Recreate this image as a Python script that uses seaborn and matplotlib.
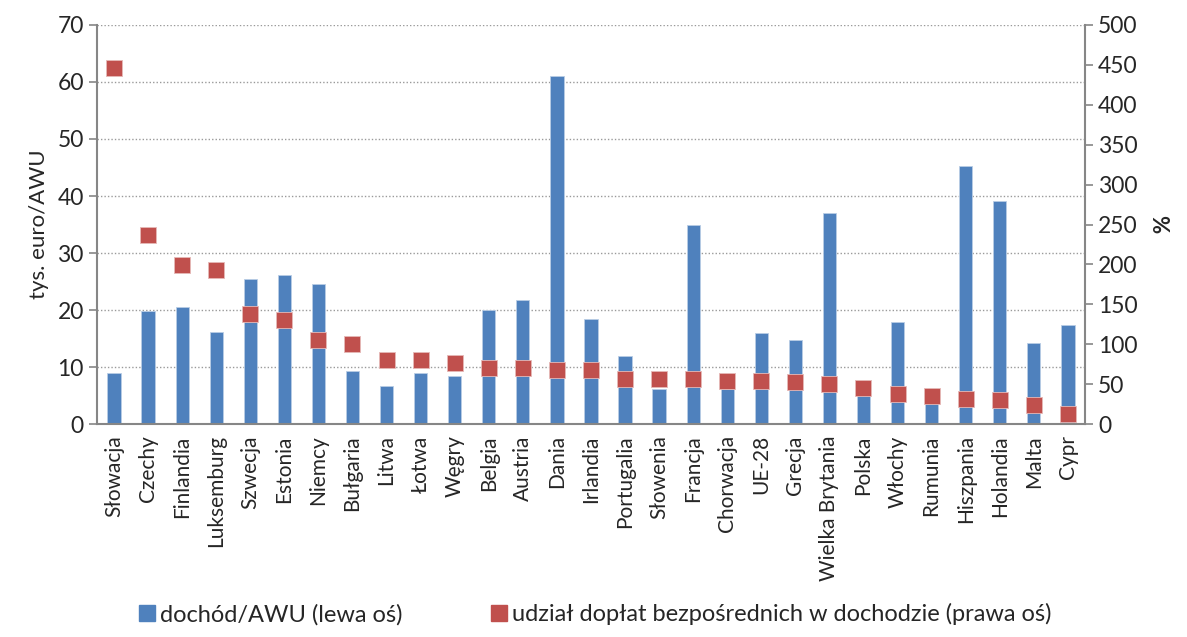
import numpy as np
import pandas as pd
import matplotlib
matplotlib.use('Agg')
import matplotlib.pyplot as plt
import seaborn as sns
from matplotlib.lines import Line2D

# countries
kraje = ['Słowacja', 'Czechy', 'Finlandia', 'Luksemburg', 'Szwecja', 'Estonia', 'Niemcy',
         'Bułgaria', 'Litwa', 'Łotwa', 'Węgry', 'Belgia', 'Austria', 'Dania', 'Irlandia',
         'Portugalia', 'Słowenia', 'Francja', 'Chorwacja', 'UE-28', 'Grecja',
         'Wielka Brytania', 'Polska', 'Włochy', 'Rumunia', 'Hiszpania', 'Holandia',
         'Malta', 'Cypr']

# income per AWU, thousand euro (left axis)
dochod = [8.9, 19.9, 20.6, 16.2, 25.4, 26.1, 24.6, 9.4, 6.7, 8.9, 8.5, 20.1, 21.8, 61.0,
          18.4, 12.0, 6.1, 34.9, 6.2, 16.0, 14.7, 37.0, 5.5, 18.0, 3.8, 45.2, 39.2, 14.3, 17.4]

# share of direct payments in income, % (right axis)
udzial = [446, 237, 199, 193, 138, 130, 106, 100, 80, 80, 77, 70, 70, 68, 68, 57, 57, 57,
          54, 54, 53, 51, 45, 38, 35, 32, 30, 24, 13]

df = pd.DataFrame({'kraj': kraje, 'dochod': dochod, 'udzial': udzial})

niebieski = '#4F81BD'
czerwony = '#C0504D'
szary = '#868686'

sns.set_style('white')
plt.rcParams['font.family'] = ['Lato', 'DejaVu Sans']

fig, ax = plt.subplots(figsize=(11.87, 6.37), dpi=100)
fig.subplots_adjust(left=0.0817, right=0.914, top=0.961, bottom=0.334)

sns.barplot(data=df, x='kraj', y='dochod', color=niebieski, width=0.39,
            edgecolor='#B9CDE5', linewidth=0.6, saturation=1, ax=ax, zorder=2)
ax.set_ylim(0, 70)
ax.set_yticks(range(0, 71, 10))
ax.set_xlim(-0.5, len(kraje) - 0.5)
ax.yaxis.grid(True, linestyle=(0, (1, 1.5)), color='#9a9a9a', linewidth=1)
ax.set_axisbelow(True)

ax2 = ax.twinx()
sns.scatterplot(data=df, x='kraj', y='udzial', marker='s', s=140, color=czerwony,
                edgecolor='#E6B9B8', linewidth=0.6, ax=ax2, zorder=3)
ax2.set_ylim(0, 500)
ax2.set_yticks(range(0, 501, 50))
ax2.set_xlim(-0.5, len(kraje) - 0.5)

# category labels centred, tick marks between categories
ax.set_xticks(range(len(kraje)))
ax.set_xticklabels(kraje, rotation=90, fontsize=15)
ax.set_xticks(np.arange(-0.5, len(kraje), 1), minor=True)
ax.tick_params(axis='x', which='major', length=0, pad=8)
ax.tick_params(axis='x', which='minor', length=6, width=1.2, color=szary, direction='out')
ax.tick_params(axis='y', length=6, width=1.2, color=szary, direction='out', labelsize=16.5)
ax2.tick_params(axis='y', length=6, width=1.2, color=szary, direction='out', labelsize=16.5)

ax.set_xlabel('')
ax2.set_xlabel('')
ax.set_ylabel('tys. euro/AWU', fontsize=16, labelpad=6)
ax2.set_ylabel('%', fontsize=16, rotation=270, labelpad=22, fontweight='bold')

for a in (ax, ax2):
    a.spines['top'].set_visible(False)
    for s in ['left', 'right', 'bottom']:
        a.spines[s].set_color(szary)
        a.spines[s].set_linewidth(1.5)
ax.spines['right'].set_visible(False)
ax2.spines['left'].set_visible(False)
ax2.spines['bottom'].set_visible(False)

uchwyty = [Line2D([0], [0], marker='s', linestyle='', color=niebieski, markersize=11),
           Line2D([0], [0], marker='s', linestyle='', color=czerwony, markersize=11)]
fig.legend(uchwyty, ['dochód/AWU (lewa oś)', 'udział dopłat bezpośrednich w dochodzie (prawa oś)'],
           loc='lower center', bbox_to_anchor=(0.5, -0.015), ncol=2, frameon=False,
           fontsize=17, handletextpad=0.05, columnspacing=3.6, handlelength=1)

fig.savefig('out.png', dpi=100)
